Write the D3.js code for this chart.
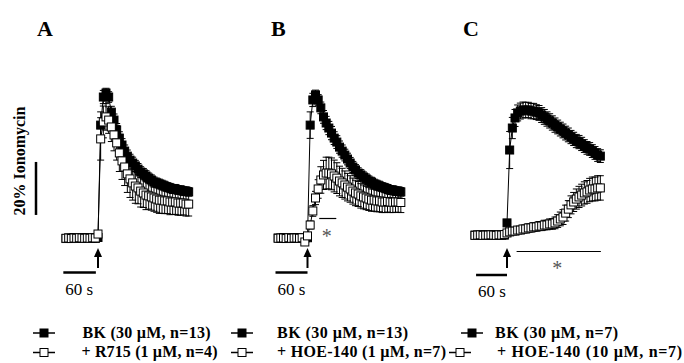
<!DOCTYPE html>
<html>
<head>
<meta charset="utf-8">
<script src="https://cdn.jsdelivr.net/npm/d3@7"></script>
<style>
body { margin: 0; background: #fff; }
svg { display: block; }
text { font-family: "Liberation Serif", "Times New Roman", "DejaVu Serif", serif; }
</style>
</head>
<body>
<div id="chart"></div>
<script>
const sampleStep = 5; // s between samples, stimulus at t = 60 s

// values in % of ionomycin response, SEM alongside
const bkA = [8.1,8.3,8.2,8.4,8.3,8.2,8.3,8.4,8.2,8.3,8.3,8.2,8.5,
  50.9,61.5,63.0,61.5,55.8,52.8,49.1,46.0,43.4,41.1,39.2,37.7,36.6,35.5,34.3,33.2,32.5,31.7,
  30.9,30.2,29.4,29.1,28.7,28.3,27.9,27.5,27.2,26.8,26.8,26.4,26.4,26.0,26.0,25.7];
const bkSemA = [0.6,0.6,0.6,0.6,0.6,0.6,0.6,0.6,0.6,0.6,0.6,0.6,0.6,
  5.0,2.5,1.8,2.0,2.2,2.3,2.4,2.4,2.4,2.3,2.3,2.2,2.2,2.1,2.1,2.0,2.0,2.0,
  1.9,1.9,1.9,1.8,1.8,1.8,1.8,1.7,1.7,1.7,1.7,1.6,1.6,1.6,1.6,1.6];
const r715A = [8.2,8.3,8.1,8.3,8.2,8.4,8.3,8.2,8.3,8.2,8.4,8.3,9.8,
  45.7,52.1,54.0,52.8,50.2,47.2,44.2,40.4,37.4,35.1,32.5,30.6,29.1,27.9,27.2,26.0,25.3,24.5,
  24.2,23.8,23.4,23.0,22.6,22.6,22.3,22.3,21.9,21.9,21.9,21.5,21.5,21.5,21.1,21.1];
const r715SemA = [0.6,0.6,0.6,0.6,0.6,0.6,0.6,0.6,0.6,0.6,0.6,0.6,0.8,
  8.0,6.0,5.0,5.0,5.5,6.0,6.5,7.0,7.0,7.0,7.0,7.0,6.5,6.5,6.0,6.0,5.5,5.5,
  5.0,5.0,5.0,5.0,5.0,5.0,4.8,4.8,4.8,4.7,4.7,4.6,4.6,4.5,4.5,4.5];

const bkB = [8.3,8.2,8.4,8.3,8.2,8.3,8.3,8.4,8.2,8.3,8.3,8.4,
  50.9,60.4,62.3,60.4,57.4,54.0,51.7,49.8,47.9,46.0,44.5,42.6,41.1,39.6,38.1,36.6,35.1,34.0,
  32.8,32.1,31.3,30.6,29.8,29.4,28.7,28.3,27.9,27.5,27.2,26.8,26.4,26.4,26.0,26.0,25.7];
const bkSemB = [0.6,0.6,0.6,0.6,0.6,0.6,0.6,0.6,0.6,0.6,0.6,0.6,
  5.0,2.5,1.8,2.0,2.2,2.4,2.5,2.5,2.5,2.4,2.4,2.3,2.3,2.2,2.2,2.1,2.1,2.0,
  2.0,2.0,1.9,1.9,1.9,1.8,1.8,1.8,1.8,1.7,1.7,1.7,1.7,1.6,1.6,1.6,1.6];
const hoe1B = [8.2,8.3,8.3,8.1,8.4,8.2,8.3,8.3,8.2,8.4,6.8,9.1,
  13.2,18.5,23.4,26.8,30.2,32.1,32.8,32.8,32.5,31.7,30.9,29.8,29.1,28.3,27.5,26.8,26.0,25.3,
  24.9,24.2,23.8,23.4,23.0,22.6,22.6,22.3,22.3,21.9,21.9,22.1,21.9,21.8,21.9,21.9,21.7];
const hoe1SemB = [0.6,0.6,0.6,0.6,0.6,0.6,0.6,0.6,0.6,0.6,0.8,1.0,
  1.5,2.0,2.5,3.5,5.0,5.5,6.0,6.0,6.0,6.0,5.8,5.6,5.5,5.3,5.2,5.0,4.9,4.8,
  4.7,4.6,4.5,4.4,4.3,4.2,4.2,4.1,4.1,4.0,4.0,4.0,4.0,3.9,3.9,3.9,3.8];

const bkC = [9.4,9.4,9.4,9.4,9.4,9.4,9.4,9.4,9.4,9.4,9.4,9.4,14.0,
  41.5,49.8,53.6,55.5,56.2,56.6,56.6,56.6,56.2,56.2,55.8,55.5,54.7,54.0,53.2,52.5,51.7,50.9,
  50.2,49.4,48.7,47.9,47.2,46.4,45.7,44.9,44.5,43.8,43.0,42.3,41.9,41.1,40.4,39.6,39.2];
const bkSemC = [0.6,0.6,0.6,0.6,0.6,0.6,0.6,0.6,0.6,0.6,0.6,0.6,1.0,
  7.0,4.0,3.2,3.0,3.0,3.0,2.9,2.9,2.9,2.9,2.8,2.8,2.8,2.8,2.7,2.7,2.7,2.7,
  2.6,2.6,2.6,2.6,2.6,2.5,2.5,2.5,2.5,2.5,2.4,2.4,2.4,2.4,2.4,2.4,2.4];
const hoe10C = [9.3,9.4,9.5,9.3,9.4,9.4,9.5,9.4,9.3,9.5,9.4,9.6,
  10.2,10.6,10.9,10.9,11.3,11.3,11.7,11.7,12.1,12.1,12.5,12.5,12.8,12.8,13.2,13.2,13.6,13.6,
  14.0,14.7,15.5,16.2,17.7,19.2,20.8,21.9,23.0,23.8,24.5,25.3,25.7,26.4,26.8,26.8,27.2,27.2];
const hoe10SemC = [0.8,0.8,0.8,0.8,0.8,0.8,0.8,0.8,0.8,0.8,0.8,0.8,
  1.0,1.1,1.2,1.2,1.3,1.3,1.4,1.4,1.5,1.5,1.6,1.6,1.7,1.7,1.8,1.8,1.9,2.0,
  2.2,2.4,2.6,2.8,3.0,3.2,3.4,3.6,3.8,4.0,4.1,4.2,4.3,4.4,4.5,4.5,4.6,4.6];

const legendA = ["BK (30 \u00b5M, n=13)", "+ R715 (1 \u00b5M, n=4)"];
const legendB = ["BK (30 \u00b5M, n=13)", "+ HOE-140 (1 \u00b5M, n=7)"];
const legendC = ["BK (30 \u00b5M, n=7)", "+ HOE-140 (10 \u00b5M, n=7)"];

// layout of the three panels
const panels = [
  {letter: "A", letterX: 37, x0: 66, first: 0, bk: bkA, bkSem: bkSemA, ant: r715A, antSem: r715SemA,
   bar: [-5, 56], barY: 272.5, legend: legendA, symX: [44, 44], textX: [82.5, 81.5], textW: [128, 136]},
  {letter: "B", letterX: 271, x0: 275.5, first: 1, bk: bkB, bkSem: bkSemB, ant: hoe1B, antSem: hoe1SemB,
   bar: [0, 60], barY: 272.5, legend: legendB, symX: [242, 242], textX: [277, 277], textW: [131, 169],
   star: {t: [82, 114], lineY: 218.5, starT: 96, starY: 243}},
  {letter: "C", letterX: 463, x0: 475, first: 0, bk: bkC, bkSem: bkSemC, ant: hoe10C, antSem: hoe10SemC,
   bar: [2, 60], barY: 275, legend: legendC, symX: [472, 460], textX: [495, 497], textW: [123, 185],
   star: {t: [78, 236], lineY: 251.5, starT: 154, starY: 275}}
];

const width = 684, height = 363;
const svg = d3.select("#chart").append("svg")
  .attr("width", width).attr("height", height);

const y = d3.scaleLinear().domain([0, 20]).range([260, 207]);

// 20 % ionomycin scale bar + label
svg.append("line")
  .attr("x1", 36).attr("x2", 36)
  .attr("y1", y(17)).attr("y2", y(37))
  .attr("stroke", "black").attr("stroke-width", 2.5);
svg.append("text")
  .attr("transform", "translate(25,161) rotate(-90)")
  .attr("text-anchor", "middle")
  .attr("font-size", 16).attr("font-weight", "bold")
  .text("20% Ionomycin");

const half = 4, cap = 3.5;

function drawSeries(g, x, values, sems, first, filled) {
  const pts = values.map((v, i) => ({t: (first + i) * sampleStep, v: v, s: sems[i]}));

  g.append("path")
    .datum(pts)
    .attr("fill", "none").attr("stroke", "black").attr("stroke-width", 1)
    .attr("d", d3.line().x(d => x(d.t)).y(d => y(d.v)));

  g.append("g")
    .selectAll("path")
    .data(pts)
    .enter()
    .append("path")
    .attr("fill", "none").attr("stroke", "black").attr("stroke-width", 1)
    .attr("d", d => {
      const cx = x(d.t), lo = y(d.v - d.s), hi = y(d.v + d.s);
      return `M${cx},${lo}V${hi}M${cx - cap},${hi}H${cx + cap}M${cx - cap},${lo}H${cx + cap}`;
    });

  g.append("g")
    .selectAll("rect")
    .data(pts)
    .enter()
    .append("rect")
    .attr("x", d => x(d.t) - half)
    .attr("y", d => y(d.v) - half)
    .attr("width", half * 2).attr("height", half * 2)
    .attr("fill", filled ? "black" : "white")
    .attr("stroke", "black").attr("stroke-width", 1);
}

function legendItem(cx, cy, filled) {
  svg.append("line")
    .attr("x1", cx - 11).attr("x2", cx + 11)
    .attr("y1", cy).attr("y2", cy)
    .attr("stroke", "black").attr("stroke-width", 1.5);
  svg.append("rect")
    .attr("x", cx - 4).attr("y", cy - 4)
    .attr("width", 8).attr("height", 8)
    .attr("fill", filled ? "black" : "white")
    .attr("stroke", "black").attr("stroke-width", 1);
}

panels.forEach(p => {
  const x = d3.scaleLinear().domain([0, 240]).range([p.x0, p.x0 + 128]);
  const g = svg.append("g");

  svg.append("text")
    .attr("x", p.letterX).attr("y", 36)
    .attr("font-size", 22).attr("font-weight", "bold")
    .text(p.letter);

  drawSeries(g, x, p.bk, p.bkSem, p.first, true);
  drawSeries(g, x, p.ant, p.antSem, p.first, false);

  // stimulus arrow
  const ax = x(60);
  svg.append("line")
    .attr("x1", ax).attr("x2", ax)
    .attr("y1", 268).attr("y2", 255)
    .attr("stroke", "black").attr("stroke-width", 2);
  svg.append("path")
    .attr("d", `M${ax - 4},257L${ax},248L${ax + 4},257Z`)
    .attr("fill", "black");

  // 60 s bar
  svg.append("line")
    .attr("x1", x(p.bar[0])).attr("x2", x(p.bar[1]))
    .attr("y1", p.barY).attr("y2", p.barY)
    .attr("stroke", "black").attr("stroke-width", 2.5);
  svg.append("text")
    .attr("x", x(p.bar[0]) + 2).attr("y", p.barY + 22)
    .attr("font-size", 17)
    .text("60 s");

  if (p.star) {
    svg.append("line")
      .attr("x1", x(p.star.t[0])).attr("x2", x(p.star.t[1]))
      .attr("y1", p.star.lineY).attr("y2", p.star.lineY)
      .attr("stroke", "black").attr("stroke-width", 1.2);
    svg.append("text")
      .attr("x", x(p.star.starT)).attr("y", p.star.starY)
      .attr("text-anchor", "middle")
      .attr("font-size", 20).attr("fill", "#555")
      .text("*");
  }

  legendItem(p.symX[0], 333, true);
  legendItem(p.symX[1], 352.5, false);
  p.legend.forEach((label, k) => {
    svg.append("text")
      .attr("x", p.textX[k]).attr("y", k ? 356.5 : 337.5)
      .attr("font-size", 16).attr("font-weight", "bold")
      .attr("textLength", p.textW[k]).attr("lengthAdjust", "spacing")
      .text(label);
  });
});
</script>
</body>
</html>
